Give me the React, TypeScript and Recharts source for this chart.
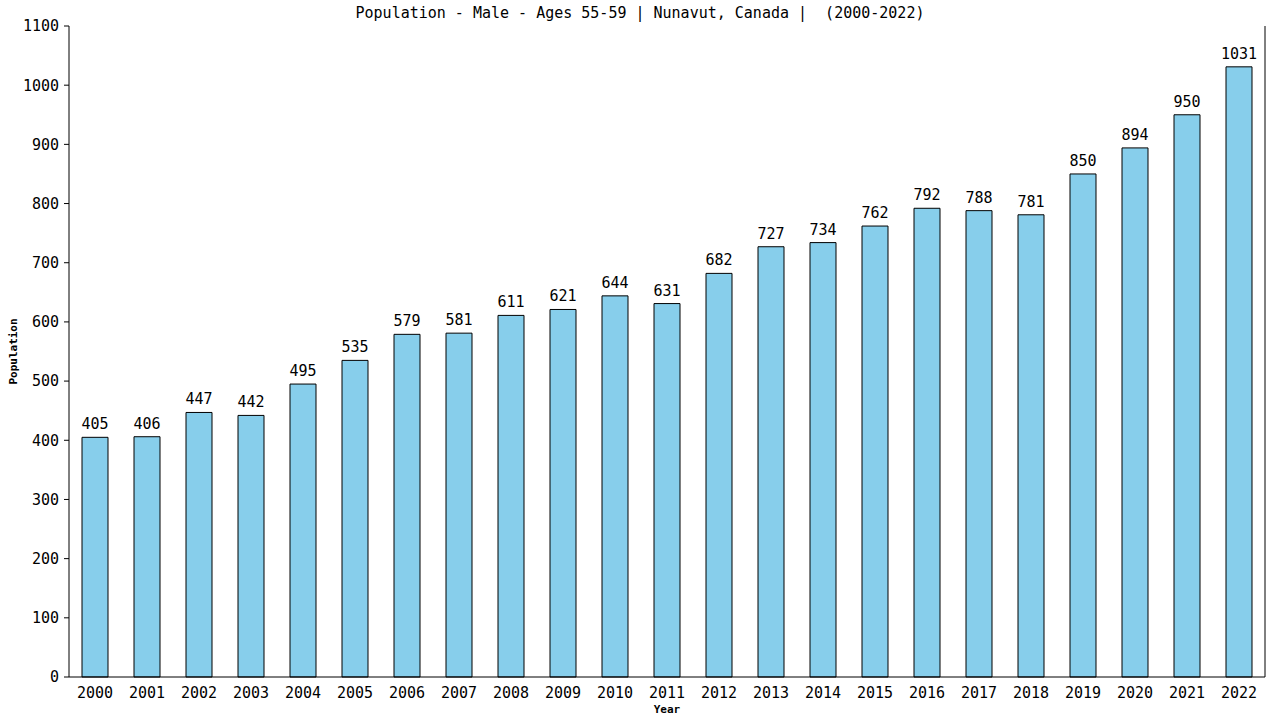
import { BarChart, Bar, XAxis, YAxis, LabelList, CartesianGrid } from 'recharts';

const years = ['2000', '2001', '2002', '2003', '2004', '2005', '2006', '2007', '2008', '2009', '2010', '2011', '2012', '2013', '2014', '2015', '2016', '2017', '2018', '2019', '2020', '2021', '2022'];
const population = [405, 406, 447, 442, 495, 535, 579, 581, 611, 621, 644, 631, 682, 727, 734, 762, 792, 788, 781, 850, 894, 950, 1031];
const yTicks = [0, 100, 200, 300, 400, 500, 600, 700, 800, 900, 1000, 1100];

const data = years.map((year, i) => ({ year, value: population[i] }));

const FONT = '"DejaVu Sans Mono", monospace';

export default function App() {
  return (
    <div style={{ position: 'absolute', left: 0, top: 0, width: 1280, height: 720, background: '#fff', fontFamily: FONT }}>
      <BarChart width={1280} height={720} data={data} margin={{ top: 26, right: 15, left: 0, bottom: 13 }}>
        {/* only used for the right-hand frame line */}
        <CartesianGrid
          horizontal={false}
          stroke="#000"
          strokeOpacity={1}
          verticalCoordinatesGenerator={({ offset }: any) => [offset.left + offset.width]}
        />
        <XAxis
          dataKey="year"
          height={30}
          stroke="#000"
          tickLine={false}
          tick={{ fill: '#000', fontSize: 15, fontFamily: FONT }}
          tickMargin={4}
          interval={0}
          label={{ value: 'Year', position: 'insideBottom', offset: -6, fill: '#000', fontSize: 11, fontWeight: 'bold', fontFamily: FONT }}
        />
        <YAxis
          width={69}
          domain={[0, 1100]}
          ticks={yTicks}
          interval={0}
          stroke="#000"
          tickSize={5}
          tickMargin={5}
          tick={{ fill: '#000', fontSize: 15, fontFamily: FONT }}
          label={{ value: 'Population', angle: -90, position: 'insideLeft', offset: 13, fill: '#000', fontSize: 11, fontWeight: 'bold', fontFamily: FONT, style: { textAnchor: 'middle' } }}
        />
        <Bar dataKey="value" barSize={26} fill="#87CEEB" stroke="#000" strokeWidth={1} isAnimationActive={false}>
          <LabelList dataKey="value" position="top" offset={8} fill="#000" fontSize={15} fontFamily={FONT} />
        </Bar>
      </BarChart>
      <div style={{ position: 'absolute', top: 4, left: 0, width: 1280, textAlign: 'center', fontSize: 15, color: '#000', whiteSpace: 'pre' }}>
        {'Population - Male - Ages 55-59 | Nunavut, Canada |  (2000-2022)'}
      </div>
    </div>
  );
}
